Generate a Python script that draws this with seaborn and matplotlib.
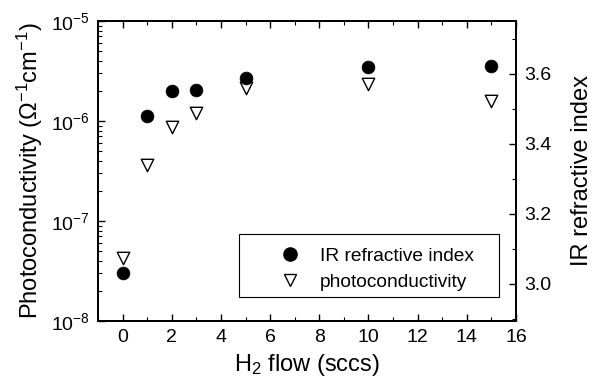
import matplotlib
matplotlib.use("Agg")
import matplotlib.pyplot as plt
import seaborn as sns
import numpy as np
import pandas as pd
from matplotlib.lines import Line2D
from matplotlib.patches import Rectangle
from matplotlib.legend_handler import HandlerLine2D
from matplotlib.ticker import MultipleLocator, LogLocator, FormatStrFormatter

# Data
h2_flow = [0, 1, 2, 3, 5, 10, 15]
photoconductivity = [4.27e-8, 3.63e-7, 8.7e-7, 1.2e-6, 2.14e-6, 2.34e-6, 1.58e-6]
ir_index = [3.031, 3.48, 3.551, 3.554, 3.589, 3.62, 3.623]

sns.set_theme(style="ticks")
plt.rcParams['font.family'] = ['Liberation Sans', 'DejaVu Sans']
plt.rcParams['mathtext.fontset'] = 'custom'
plt.rcParams['mathtext.rm'] = 'Liberation Sans'
plt.rcParams['mathtext.it'] = 'Liberation Sans:italic'
plt.rcParams['mathtext.default'] = 'regular'
for k in ['text.color', 'axes.labelcolor', 'xtick.color', 'ytick.color', 'axes.edgecolor']:
    plt.rcParams[k] = 'black'

df = pd.DataFrame({"flow": h2_flow, "pc": photoconductivity, "n": ir_index})

fig = plt.figure(figsize=(5.97, 3.82), dpi=100)
ax = fig.add_axes([98/597, 1-321/382, 418/597, 300/382])
ax2 = ax.twinx()

sns.scatterplot(data=df, x="flow", y="pc", ax=ax, marker="v", s=80,
                facecolor="white", edgecolor="black", linewidth=1.0, zorder=3)
sns.scatterplot(data=df, x="flow", y="n", ax=ax2, marker="o", s=85,
                color="black", edgecolor="black", linewidth=0.5, zorder=3)

ax.set_yscale("log")
ax.set_ylim(1e-8, 1e-5)
ax.set_xlim(-1, 16)
ax2.set_ylim(2.894, 3.751)

ax.xaxis.set_major_locator(MultipleLocator(2))
ax.xaxis.set_minor_locator(MultipleLocator(1))
ax.yaxis.set_major_locator(LogLocator(base=10, numticks=10))
ax.yaxis.set_minor_locator(LogLocator(base=10, subs=np.arange(2, 10), numticks=10))
ax2.yaxis.set_major_locator(MultipleLocator(0.2))
ax2.yaxis.set_minor_locator(MultipleLocator(0.1))
ax2.yaxis.set_major_formatter(FormatStrFormatter('%.1f'))

for a in (ax, ax2):
    for sp in a.spines.values():
        sp.set_visible(True)
        sp.set_linewidth(1.3)
        sp.set_color("black")

ax.tick_params(axis="both", which="major", direction="in", length=5, width=1.0,
               labelsize=14, colors="black", top=True, right=False, pad=6)
ax.tick_params(axis="both", which="minor", direction="in", length=3, width=0.8,
               top=True, right=False)
ax2.tick_params(axis="y", which="major", direction="in", length=5, width=1.0,
                labelsize=14, colors="black", pad=6)
ax2.tick_params(axis="y", which="minor", direction="in", length=3, width=0.8)

ax.set_xlabel(r"H$_2$ flow (sccs)", fontsize=17, labelpad=4)
ax.set_ylabel(r"Photoconductivity ($\Omega^{-1}$cm$^{-1}$)", fontsize=17, labelpad=4)
ax2.set_ylabel("IR refractive index", fontsize=17, labelpad=14)

# legend frame
x0, x1 = (239-98)/418, (499-98)/418
y0, y1 = (321-297)/300, (321-234)/300
ax.add_patch(Rectangle((x0, y0), x1-x0, y1-y0, transform=ax.transAxes,
                       facecolor="white", edgecolor="black", linewidth=0.8,
                       zorder=4))

handles = [
    Line2D([], [], marker="o", linestyle="none", markersize=9.5,
           markerfacecolor="black", markeredgecolor="black"),
    Line2D([], [], marker="v", linestyle="none", markersize=9,
           markerfacecolor="white", markeredgecolor="black"),
]
hmap = {h: HandlerLine2D(xpad=0.62) for h in handles}
leg = ax.legend(handles, ["IR refractive index", "photoconductivity"],
                loc="upper left", bbox_to_anchor=(x0, y1),
                borderaxespad=0, fontsize=13.8, frameon=False,
                handletextpad=0.2, borderpad=0.7, labelspacing=0.45,
                handlelength=3.34, handler_map=hmap)
leg.set_zorder(5)

fig.savefig("out.png", dpi=100)
